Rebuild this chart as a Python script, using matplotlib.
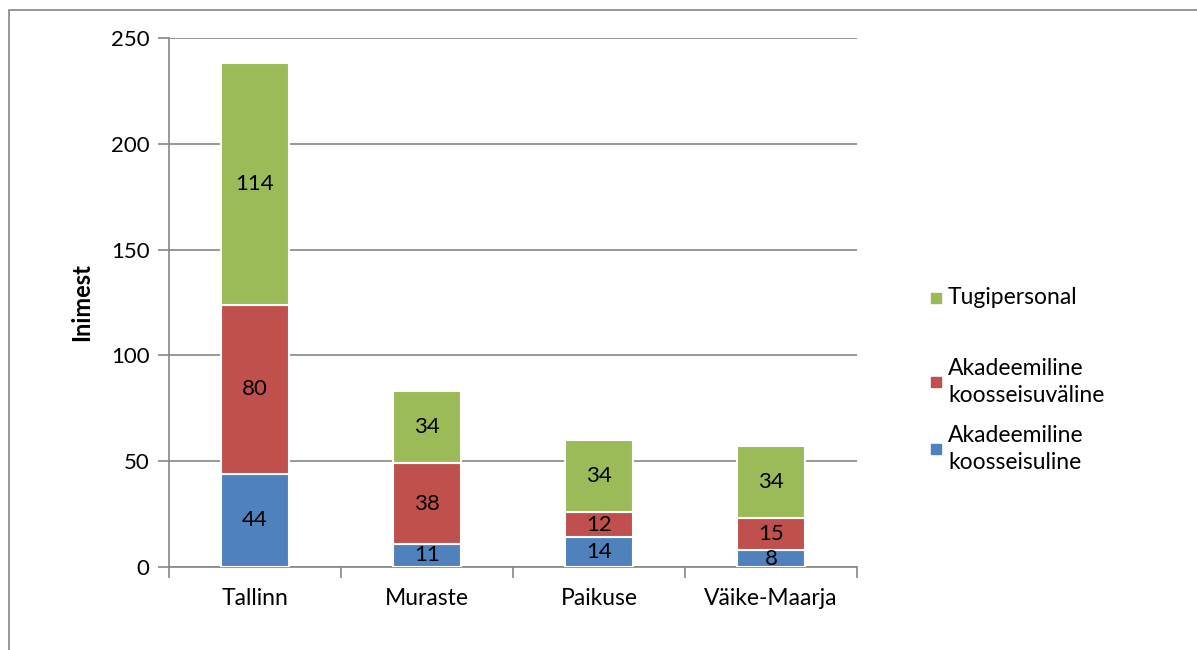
import numpy as np
import matplotlib.pyplot as plt
from matplotlib.patches import Rectangle

plt.rcParams['font.family'] = ['Lato', 'DejaVu Sans']

# andmed
kohad = ["Tallinn", "Muraste", "Paikuse", "Väike-Maarja"]
koosseisuline = [44, 11, 14, 8]
koosseisuvaline = [80, 38, 12, 15]
tugipersonal = [114, 34, 34, 34]
seeria_nimed = ["Akadeemiline\nkoosseisuline", "Akadeemiline\nkoosseisuväline", "Tugipersonal"]
y_ticks = [0, 50, 100, 150, 200, 250]

varvid = ["#4F81BD", "#C0504D", "#9BBB59"]
HALL = "#868686"
FS = 16.5

fig = plt.figure(figsize=(11.97, 6.5), dpi=100)
ax = fig.add_axes([169 / 1197, 1 - 567 / 650, (857 - 169) / 1197, (567 - 38) / 650])

# raam ümber diagrammi
fig.patches.append(Rectangle((9 / 1197, -0.1), 1.2, 1 - 10 / 650 + 0.1,
                             transform=fig.transFigure, fill=False,
                             edgecolor=HALL, linewidth=1.2))

x = np.arange(len(kohad))
bottom = np.zeros(len(kohad))
for vals, col in zip([koosseisuline, koosseisuvaline, tugipersonal], varvid):
    vals = np.array(vals)
    ax.bar(x, vals, width=0.4, bottom=bottom, color=col, edgecolor="white",
           linewidth=1.5, zorder=3)
    for xi, b, v in zip(x, bottom, vals):
        ax.text(xi, b + v / 2, str(v), ha="center", va="center", fontsize=16,
                color="black", zorder=4)
    bottom += vals

ax.set_xlim(-0.5, len(kohad) - 0.5)
ax.set_ylim(0, 250)
ax.set_yticks(y_ticks)
ax.set_xticks(x)
ax.set_xticklabels(kohad, fontsize=FS)
ax.set_xticks(np.arange(-0.5, len(kohad), 1.0), minor=True)
ax.tick_params(axis="x", which="major", length=0, pad=15)
ax.tick_params(axis="x", which="minor", length=8, color=HALL, width=1.2)
ax.tick_params(axis="y", length=8, color=HALL, width=1.2, labelsize=16, pad=6)
ax.grid(axis="y", color=HALL, linewidth=1.2, zorder=0)
for s in ["top", "right"]:
    ax.spines[s].set_visible(False)
for s in ["left", "bottom"]:
    ax.spines[s].set_color(HALL)
    ax.spines[s].set_linewidth(1.2)
ax.set_ylabel("Inimest", fontsize=17, fontweight="bold", labelpad=13)

# legend käsitsi
leg_y = [449, 382, 298]
for nimi, col, yy in zip(seeria_nimed, varvid, leg_y):
    yf = 1 - yy / 650
    fig.patches.append(Rectangle((931 / 1197, yf - 5 / 650), 10 / 1197, 10 / 650,
                                 transform=fig.transFigure, color=col))
    fig.text(948 / 1197, yf, nimi, fontsize=FS, va="center", ha="left",
             linespacing=1.4)

fig.savefig("out.png", dpi=100)
